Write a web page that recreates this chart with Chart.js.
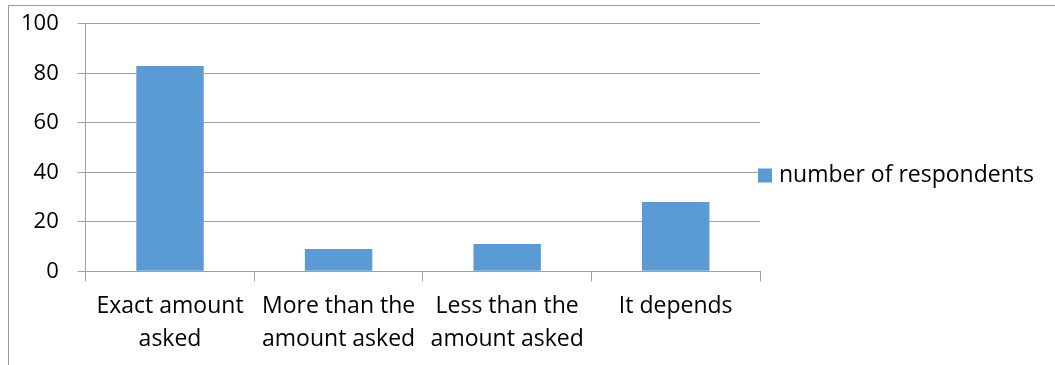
<!DOCTYPE html>
<html>
<head>
<meta charset="utf-8">
<script src="https://cdn.jsdelivr.net/npm/chart.js@4.4.1/dist/chart.umd.min.js"></script>
<style>
    html, body { margin: 0; padding: 0; background: #fff; }
    #wrap { position: relative; width: 1055px; height: 365px; overflow: hidden; }
    #frame { position: absolute; left: 8px; top: 5px; right: -5px; bottom: -5px; border-top: 1px solid #9a9a9a; border-left: 1px solid #9a9a9a; }
    canvas { position: absolute; left: 0; top: 0; }
</style>
</head>
<body>
<div id="wrap">
    <div id="frame"></div>
    <canvas id="respChart" width="1055" height="365"></canvas>
</div>
<script>
// Survey answers
const categories = [
    ['Exact amount', 'asked'],
    ['More than the', 'amount asked'],
    ['Less than the', 'amount asked'],
    ['It depends']
];
const respondents = [83, 9, 11, 28];
const seriesName = 'number of respondents';
const yMin = 0;
const yMax = 100;
const yStep = 20;

const barColor = '#5b9bd5';
const gridColor = '#a0a0a0';
const fontFamily = '"Open Sans", "Liberation Sans", sans-serif';

// Excel-style legend: square + text, vertically centred on the whole chart
const sideLegend = {
    id: 'sideLegend',
    afterDraw(chart) {
        const ctx = chart.ctx;
        const x = chart.chartArea.right - 2;
        const cy = 175.5;
        ctx.save();
        ctx.fillStyle = barColor;
        ctx.fillRect(x, cy - 7, 14, 14);
        ctx.fillStyle = '#000';
        ctx.font = `23px ${fontFamily}`;
        ctx.textBaseline = 'middle';
        ctx.textAlign = 'left';
        ctx.fillText(chart.data.datasets[0].label, x + 21, cy);
        ctx.restore();
    }
};

new Chart(document.getElementById('respChart'), {
    type: 'bar',
    data: {
        labels: categories,
        datasets: [{
            label: seriesName,
            data: respondents,
            backgroundColor: barColor,
            borderWidth: 0,
            barPercentage: 0.4,
            categoryPercentage: 1
        }]
    },
    options: {
        responsive: false,
        animation: false,
        devicePixelRatio: 1,
        layout: { padding: { left: 2, right: 295, top: 3, bottom: 1 } },
        plugins: {
            legend: { display: false },
            tooltip: { enabled: false }
        },
        scales: {
            x: {
                offset: true,
                grid: {
                    offset: true,
                    drawOnChartArea: false,
                    drawTicks: true,
                    tickLength: 10,
                    color: gridColor,
                    lineWidth: 1
                },
                border: { display: true, color: gridColor, width: 1 },
                ticks: {
                    color: '#000',
                    padding: 8,
                    maxRotation: 0,
                    autoSkip: false,
                    font: { family: fontFamily, size: 23, lineHeight: 1.45 }
                }
            },
            y: {
                min: yMin,
                max: yMax,
                grid: {
                    color: gridColor,
                    lineWidth: 1,
                    drawTicks: true,
                    tickLength: 8
                },
                border: { display: true, color: gridColor, width: 1 },
                ticks: {
                    stepSize: yStep,
                    color: '#000',
                    padding: 19,
                    // small line height so the top label doesn't push the plot down
                    font: { family: fontFamily, size: 22, lineHeight: 0.45 }
                }
            }
        }
    },
    plugins: [sideLegend]
});
</script>
</body>
</html>
